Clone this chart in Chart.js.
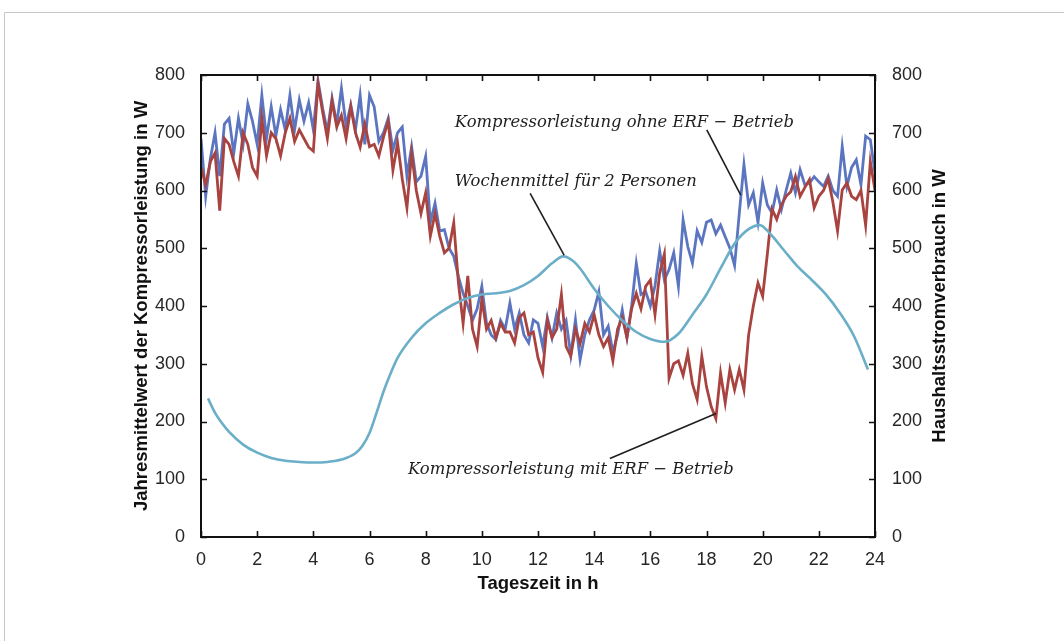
<!DOCTYPE html>
<html>
<head>
<meta charset="utf-8">
<title>Kompressorleistung und Haushaltsstromverbrauch</title>
<script src="https://cdn.jsdelivr.net/npm/chart.js@4.4.1/dist/chart.umd.min.js"></script>
<style>
  html, body { margin: 0; padding: 0; background: #fff; overflow: hidden; }
  #wrap { position: relative; width: 1064px; height: 641px; }
</style>
</head>
<body>
<div id="wrap"><canvas id="c" width="1064" height="641"></canvas></div>
<script>
// Compressor power, one value every 10 minutes from 0:00 to 24:00 (W)
const minutesStep = 10;

const komprOhneERF = [
  690,590,655,700,625,715, 725,665,725,680,750,720, 680,765,690,745,695,740,
  705,765,705,757,720,752, 705,790,742,702,760,715, 777,712,748,705,765,680,
  765,745,685,700,725,670, 700,710,625,676,615,625, 659,545,578,530,532,500,
  486,451,422,400,375,395, 434,370,350,342,375,360, 405,360,388,350,336,376,
  370,330,380,345,388,360, 375,315,376,307,350,376, 393,425,350,365,320,350,
  393,345,400,474,420,425, 400,435,495,445,463,492, 434,549,503,474,530,510,
  545,549,525,540,520,500, 470,560,645,575,596,545, 613,575,561,601,567,600,
  630,596,636,610,613,624, 615,607,625,600,590,676, 607,640,653,610,694,688,
  630
];

const komprMitERF = [
  640,610,650,665,565,690, 680,650,625,700,680,640, 625,725,660,700,690,660,
  700,725,685,705,690,675, 668,785,735,690,755,710, 730,690,745,700,675,715,
  676,680,660,693,720,635, 682,620,570,665,600,560, 596,521,560,521,492,500,
  544,440,370,452,360,330, 412,360,375,345,370,355, 355,336,380,388,350,355,
  310,285,375,345,360,420, 330,313,360,335,370,355, 385,350,330,345,305,360,
  380,345,395,422,395,434, 445,385,457,490,275,300, 305,280,318,265,238,313,
  260,226,205,284,232,290, 255,290,255,350,400,440, 417,490,568,550,575,590,
  598,624,590,605,619,570, 590,600,620,580,530,601, 613,590,584,600,540,650,
  600
];

const tageszeit = komprOhneERF.map((_, i) => i * minutesStep / 60);

// Weekly mean household consumption for two persons (h, W)
const wochenH = [0.25,0.5,0.75,1,1.5,2,2.5,3,3.5,4,4.5,5,5.5,5.75,6,6.25,6.5,6.75,7,7.5,8,8.5,9,9.5,10,10.5,11,11.5,12,12.5,12.9,13.25,13.5,14,14.5,15,15.5,16,16.5,17,17.5,18,18.5,19,19.5,19.9,20.25,20.75,21.25,21.75,22.25,22.75,23.25,23.75];
const wochenW = [240,215,197,182,160,146,137,132,130,129,130,134,145,158,180,215,252,283,310,345,370,388,403,414,420,422,426,436,452,474,486,478,465,430,400,375,355,343,338,352,385,420,465,508,533,540,526,497,468,445,420,388,348,290];

// Axis ticks
const hourTicks = [0,2,4,6,8,10,12,14,16,18,20,22,24];
const wattTicks = [0,100,200,300,400,500,600,700,800];

// Callout texts with their anchors and leader lines, in data units (h, W)
const callouts = [
  { text: 'Kompressorleistung ohne ERF \u2212 Betrieb', at: [9.04, 717], from: [18.01, 705], to: [19.22, 592] },
  { text: 'Wochenmittel f\u00fcr 2 Personen',            at: [9.04, 615], from: [11.72, 595], to: [12.93, 488] },
  { text: 'Kompressorleistung mit ERF \u2212 Betrieb',  at: [7.37, 116], from: [14.56, 136], to: [18.34, 214] }
];

const sansFamily = '"Liberation Sans", Arial, Helvetica, sans-serif';
const tickFont = { family: sansFamily, size: 18 };
const inkColor = '#262626';

const toXY = (xs, ys) => xs.map((x, i) => ({ x, y: ys[i] }));

const decor = {
  id: 'decor',
  beforeDraw(chart) {
    const { ctx, width, height } = chart;
    ctx.save();
    ctx.fillStyle = '#ffffff';
    ctx.fillRect(0, 0, width, height);
    ctx.strokeStyle = '#c6c6c6';
    ctx.lineWidth = 1;
    ctx.beginPath();
    ctx.moveTo(4.5, height);
    ctx.lineTo(4.5, 12.5);
    ctx.lineTo(width, 12.5);
    ctx.stroke();
    ctx.restore();
  },
  afterDatasetsDraw(chart) {
    const { ctx, chartArea: a, scales } = chart;
    ctx.save();
    // plot frame
    ctx.strokeStyle = '#111';
    ctx.lineWidth = 2;
    ctx.strokeRect(a.left, a.top, a.right - a.left, a.bottom - a.top);
    // inward tick marks
    ctx.lineWidth = 1.6;
    ctx.beginPath();
    const tl = 6;
    scales.x.ticks.forEach(t => {
      const px = Math.round(scales.x.getPixelForValue(t.value)) + 0.5;
      ctx.moveTo(px, a.bottom); ctx.lineTo(px, a.bottom - tl);
      ctx.moveTo(px, a.top);    ctx.lineTo(px, a.top + tl);
    });
    scales.y.ticks.forEach(t => {
      const py = Math.round(scales.y.getPixelForValue(t.value)) + 0.5;
      ctx.moveTo(a.left, py); ctx.lineTo(a.left + tl, py);
    });
    scales.y2.ticks.forEach(t => {
      const py = Math.round(scales.y2.getPixelForValue(t.value)) + 0.5;
      ctx.moveTo(a.right, py); ctx.lineTo(a.right - tl, py);
    });
    ctx.stroke();
    ctx.restore();
  },
  afterDraw(chart) {
    const { ctx, chartArea: a, scales } = chart;
    const midY = (a.top + a.bottom) / 2;
    ctx.save();
    ctx.fillStyle = '#111';
    ctx.font = 'bold 18.5px ' + sansFamily;
    ctx.textAlign = 'center';
    ctx.textBaseline = 'middle';
    ctx.fillText('Tageszeit in h', (a.left + a.right) / 2, 584);

    ctx.save();
    ctx.translate(142, midY);
    ctx.rotate(-Math.PI / 2);
    ctx.fillText('Jahresmittelwert der Kompressorleistung in W', 0, 0);
    ctx.restore();

    ctx.save();
    ctx.translate(940, midY);
    ctx.rotate(-Math.PI / 2);
    ctx.fillText('Haushaltsstromverbrauch in W', 0, 0);
    ctx.restore();

    // callouts
    ctx.font = 'italic 16.4px "DejaVu Serif", "Liberation Serif", serif';
    ctx.textAlign = 'left';
    ctx.fillStyle = '#1e1e1e';
    ctx.strokeStyle = '#1e1e1e';
    ctx.lineWidth = 1.6;
    callouts.forEach(c => {
      const tx = scales.x.getPixelForValue(c.at[0]);
      const ty = scales.y.getPixelForValue(c.at[1]);
      ctx.fillText(c.text, tx, ty);
      ctx.beginPath();
      ctx.moveTo(scales.x.getPixelForValue(c.from[0]), scales.y.getPixelForValue(c.from[1]));
      ctx.lineTo(scales.x.getPixelForValue(c.to[0]), scales.y.getPixelForValue(c.to[1]));
      ctx.stroke();
    });
    ctx.restore();
  }
};

new Chart(document.getElementById('c'), {
  type: 'line',
  data: {
    datasets: [
      {
        label: 'Wochenmittel f\u00fcr 2 Personen',
        data: toXY(wochenH, wochenW),
        yAxisID: 'y2',
        borderColor: '#6aaec8',
        borderWidth: 2.6,
        pointRadius: 0,
        cubicInterpolationMode: 'monotone',
        fill: false
      },
      {
        label: 'Kompressorleistung mit ERF \u2212 Betrieb',
        data: toXY(tageszeit, komprMitERF),
        yAxisID: 'y',
        borderColor: '#a8433f',
        borderWidth: 2.8,
        pointRadius: 0,
        tension: 0,
        fill: false
      },
      {
        label: 'Kompressorleistung ohne ERF \u2212 Betrieb',
        data: toXY(tageszeit, komprOhneERF),
        yAxisID: 'y',
        borderColor: '#5b75c0',
        borderWidth: 2.8,
        pointRadius: 0,
        tension: 0,
        fill: false
      }
    ]
  },
  options: {
    responsive: false,
    animation: false,
    layout: { padding: { top: 75, left: 0, right: 0, bottom: 0 } },
    plugins: { legend: { display: false }, tooltip: { enabled: false } },
    scales: {
      x: {
        type: 'linear',
        min: 0, max: 24,
        afterBuildTicks(s) { s.ticks = hourTicks.map(v => ({ value: v })); },
        ticks: { font: tickFont, color: inkColor, padding: 4, maxRotation: 0, autoSkip: false },
        grid: { display: false },
        border: { display: false },
        afterFit(s) { s.height = 104; }
      },
      y: {
        position: 'left',
        min: 0, max: 800,
        afterBuildTicks(s) { s.ticks = wattTicks.map(v => ({ value: v })); },
        ticks: { font: tickFont, color: inkColor, padding: 8 },
        grid: { display: false },
        border: { display: false },
        afterFit(s) { s.width = 201; }
      },
      y2: {
        position: 'right',
        min: 0, max: 800,
        afterBuildTicks(s) { s.ticks = wattTicks.map(v => ({ value: v })); },
        ticks: { font: tickFont, color: inkColor, padding: 9 },
        grid: { display: false },
        border: { display: false },
        afterFit(s) { s.width = 189; }
      }
    }
  },
  plugins: [decor]
});
</script>
</body>
</html>
